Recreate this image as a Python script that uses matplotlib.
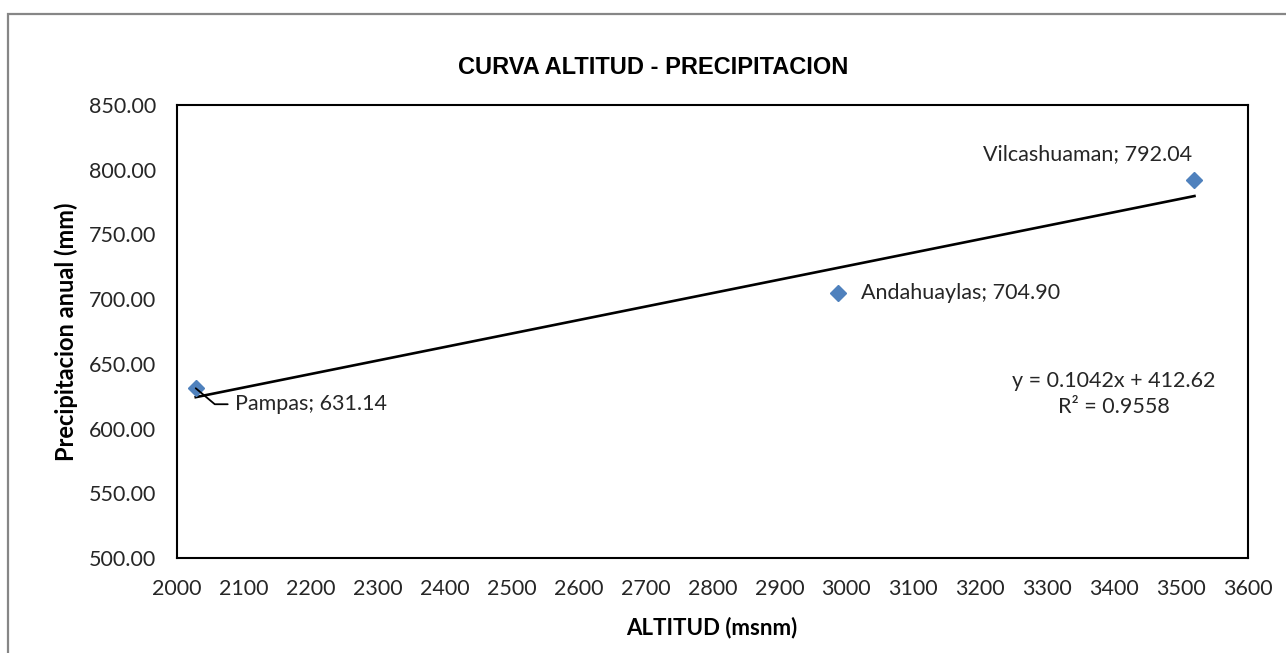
import numpy as np
import matplotlib
matplotlib.use("Agg")
import matplotlib.pyplot as plt
from matplotlib.patches import Rectangle

# datos de estaciones
estaciones = ["Pampas", "Andahuaylas", "Vilcashuaman"]
altitud = [2028, 2987, 3520]
precipitacion = [631.14, 704.90, 792.04]

x_ticks = list(range(2000, 3601, 100))
y_ticks = [500, 550, 600, 650, 700, 750, 800, 850]

ecuacion = "y = 0.1042x + 412.62\nR² = 0.9558"

plt.rcParams['font.family'] = ['Lato', 'DejaVu Sans']

W, H = 1286, 653
fig = plt.figure(figsize=(W / 100, H / 100), dpi=100)
fig.patch.set_facecolor("white")

# marco gris del area del grafico (se sale por la derecha y abajo)
fig.patches.append(Rectangle((8 / W, -0.2), 1.2, 1 - 14 / H + 0.2,
                             transform=fig.transFigure, fill=False,
                             edgecolor="#868686", linewidth=1.6))

ax = fig.add_axes([177 / W, 1 - 558 / H, (1248 - 177) / W, (558 - 105) / H])

# tendencia lineal
coef = np.polyfit(altitud, precipitacion, 1)
xt = np.array([min(altitud), max(altitud)])
ax.plot(xt, np.polyval(coef, xt), color="black", linewidth=1.9, zorder=2)

ax.plot(altitud, precipitacion, linestyle="none", marker="D", markersize=8.5,
        color="#4F81BD", zorder=3)

col_txt = "#262626"
fs = 15.5
# etiquetas de datos
ax.annotate(f"{estaciones[2]}; {precipitacion[2]:.2f}", xy=(altitud[2], precipitacion[2]),
            xytext=(-77, 18.5), textcoords="offset points", ha="center", va="center",
            fontsize=fs, color=col_txt)
ax.annotate(f"{estaciones[1]}; {precipitacion[1]:.2f}", xy=(altitud[1], precipitacion[1]),
            xytext=(16.5, 0), textcoords="offset points", ha="left", va="center",
            fontsize=fs, color=col_txt)
ax.annotate(f"{estaciones[0]}; {precipitacion[0]:.2f}", xy=(altitud[0], precipitacion[0]),
            xytext=(28, -11.5), textcoords="offset points", ha="left", va="center",
            fontsize=fs, color=col_txt,
            arrowprops=dict(arrowstyle="-", color="black", linewidth=1.3,
                            relpos=(0, 0.5), shrinkA=3, shrinkB=0,
                            connectionstyle="angle,angleA=0,angleB=-40,rad=0"))

ax.text(1114 / W, 1 - 394 / H, ecuacion, transform=fig.transFigure, ha="center",
        va="center", fontsize=fs, color=col_txt, linespacing=1.35)

ax.set_xlim(2000, 3600)
ax.set_ylim(500, 850)
ax.set_xticks(x_ticks)
ax.set_yticks(y_ticks)
ax.set_yticklabels([f"{v:.2f}" for v in y_ticks])
ax.tick_params(length=0, labelsize=fs, colors=col_txt, pad=15)
for s in ax.spines.values():
    s.set_linewidth(1.5)
    s.set_color("black")

fig.text(653 / W, 1 - 67 / H, "CURVA ALTITUD - PRECIPITACION", ha="center", va="center",
         fontsize=17, fontweight="bold", color="black",
         family=["Liberation Sans Narrow", "Liberation Sans", "DejaVu Sans"])
fig.text(712 / W, 1 - 628 / H, "ALTITUD (msnm)", ha="center", va="center",
         fontsize=16, fontweight="bold", color="black")
fig.text(66 / W, 1 - 332 / H, "Precipitacion anual (mm)", ha="center", va="center",
         rotation=90, fontsize=17, fontweight="bold", color="black")

fig.savefig("out.png", dpi=100)
